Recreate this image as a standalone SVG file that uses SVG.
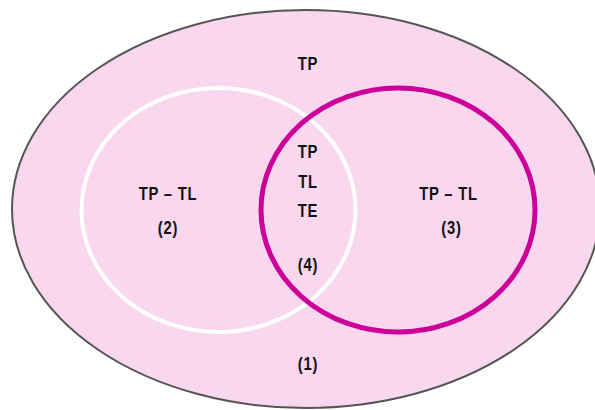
<svg xmlns="http://www.w3.org/2000/svg" width="595" height="410" viewBox="0 0 595 410">
<style>
.t{font-family:"Liberation Sans",Arial,sans-serif;font-size:19px;font-weight:bold;fill:#111;text-anchor:middle;letter-spacing:1px}
</style>
<rect width="595" height="410" fill="#ffffff"/>
<g id="universe">
<ellipse cx="306" cy="209" rx="294" ry="199" fill="#f8d7ef" stroke="#555555" stroke-width="2"/>
</g>
<g id="setL">
<ellipse cx="218.5" cy="210" rx="137" ry="122" fill="none" stroke="#ffffff" stroke-width="4"/>
</g>
<g id="setE">
<ellipse cx="398" cy="210" rx="137" ry="122" fill="none" stroke="#cc0099" stroke-width="5"/>
</g>
<g id="labels">
<text class="t" transform="translate(308 70) scale(0.78 1)">TP</text>
<text class="t" transform="translate(168 200) scale(0.78 1)">TP <tspan>–</tspan> TL</text>
<text class="t" transform="translate(168 234) scale(0.78 1)">(2)</text>
<text class="t" transform="translate(448.5 200) scale(0.78 1)">TP – TL</text>
<text class="t" transform="translate(451.5 234) scale(0.78 1)">(3)</text>
<text class="t" transform="translate(308 158) scale(0.78 1)">TP</text>
<text class="t" transform="translate(308 188) scale(0.78 1)">TL</text>
<text class="t" transform="translate(308 217) scale(0.78 1)">TE</text>
<text class="t" transform="translate(308 271) scale(0.78 1)">(4)</text>
<text class="t" transform="translate(308 370) scale(0.78 1)">(1)</text>
</g>
</svg>
